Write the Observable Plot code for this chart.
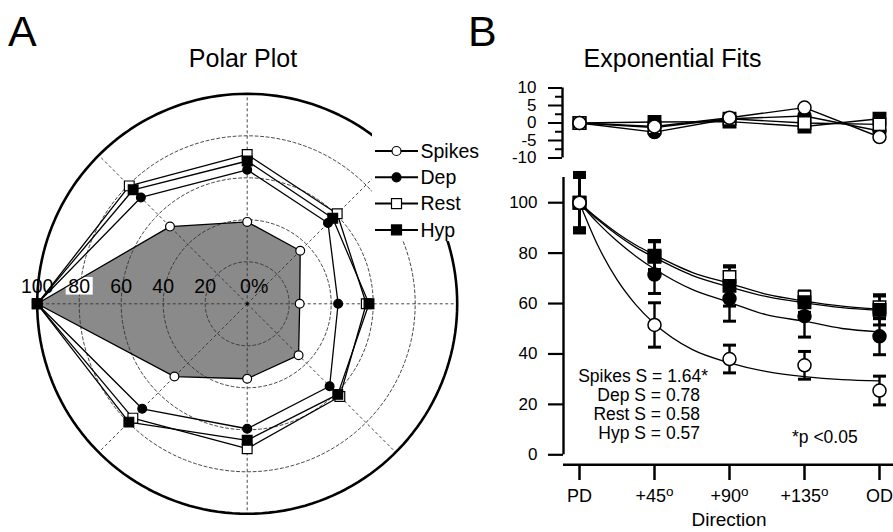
<!DOCTYPE html>
<html><head><meta charset="utf-8">
<script src="https://cdn.jsdelivr.net/npm/d3@7"></script>
<script src="https://cdn.jsdelivr.net/npm/@observablehq/plot@0.6"></script>
<style>
body{margin:0;background:#fff;}
#wrap{position:relative;width:893px;height:532px;overflow:hidden;font-family:"Liberation Sans",Arial,sans-serif;background:#fff;}
#wrap svg{position:absolute;left:0;top:0;}
</style></head><body><div id="wrap"></div>
<script>
// ---------- DATA ----------
// Panel A: polar plot (percent of PD response), going round from PD (left) counter-clockwise on top
const polarLabels = ["PD", "+45", "+90", "+135", "OD", "+135", "+90", "+45"];
const polarAngles = [180, 135, 90, 45, 0, -45, -90, -135];
const spikesPolar = [100, 52, 39, 35.7, 25, 34.6, 35.7, 49];
const depPolar    = [100, 71.6, 63.8, 54.4, 43.3, 55.5, 59.5, 70.7];
const restPolar   = [100, 79.4, 71.1, 60.6, 56.7, 62.4, 69, 77];
const hypPolar    = [100, 76.8, 68, 57.6, 58, 61, 65, 79.7];
const ringValues  = [20, 40, 60, 80];
const radialLabels = ["100", "80", "60", "40", "20"];
const radialValues = [100, 80, 60, 40, 20];
const seriesNames = ["Spikes", "Dep", "Rest", "Hyp"];

// Panel B: exponential fits
const directions = ["PD", "+45o", "+90o", "+135o", "OD"];
const dirIndex = [0, 1, 2, 3, 4];
const spikesMean = [100, 51.5, 38, 35.5, 25.5];
const spikesSem  = [10, 8.8, 5.5, 5.5, 5.7];
const depMean    = [100, 71.5, 62, 55, 47];
const depSem     = [11, 7.5, 9, 8.3, 7.3];
const restMean   = [100, 79, 70.5, 62.5, 58.5];
const restSem    = [10, 5.5, 4, 2.5, 4.5];
const hypMean    = [100, 78.5, 67, 60.5, 57.5];
const hypSem     = [12, 6.5, 8, 4, 6];
// fitted curves
const fitX        = [0, 0.25, 0.5, 0.75, 1, 1.5, 2, 2.5, 3, 3.5, 4];
const spikesFit   = [100, 82.7, 69.5, 59.6, 52, 41.8, 36.5, 33, 31, 29.8, 29.3];
const depFit      = [100, 91.8, 84.8, 78.8, 73.7, 65.6, 60.5, 55.5, 53, 50.1, 48.8];
const restFit     = [100, 93.6, 88, 83.2, 79.3, 72.4, 68, 63.6, 61, 59, 57.8];
const hypFit      = [100, 93.1, 87.3, 82.3, 78.3, 71.2, 66.6, 62.7, 60.3, 58.4, 57.3];
// residuals
const spikesRes = [0, -1, 1.5, 4.4, -4];
const depRes    = [0, -2.6, 1.2, 2, -2.3];
const restRes   = [0, -1.3, 1.2, 0, -0.4];
const hypRes    = [0, 0.3, 0.4, -1, 1.2];
const resMajor = [-10, -5, 0, 5, 10];
const resMinor = [-7.5, -2.5, 2.5, 7.5];
const mainTicks = [0, 20, 40, 60, 80, 100];
const fitLabels = ["Spikes S = 1.64*", "Dep S = 0.78", "Rest S = 0.58", "Hyp S = 0.57"];
const pNote = "*p <0.05";

// ---------- STYLE ----------
const FONT = '"Liberation Sans", Arial, sans-serif';
const GRAY = "#8a8a8a";
const seriesStyle = {
  Spikes: {symbol: "circle", fill: "white"},
  Dep:    {symbol: "circle", fill: "black"},
  Rest:   {symbol: "square", fill: "white"},
  Hyp:    {symbol: "square", fill: "black"}
};
const wrap = document.getElementById("wrap");
const rad = a => a * Math.PI / 180;

// ---------- PANEL A ----------
const polarSeries = {Spikes: spikesPolar, Dep: depPolar, Rest: restPolar, Hyp: hypPolar};
function polygon(name) {
  const vals = polarSeries[name];
  return vals.map((v, i) => ({name, r: v, a: polarAngles[i], x: v * Math.cos(rad(polarAngles[i])), y: v * Math.sin(rad(polarAngles[i]))}));
}
const polys = Object.fromEntries(seriesNames.map(n => [n, polygon(n)]));
const closed = n => [...polys[n], polys[n][0]];
function circlePts(r) {
  return d3.range(0, 361, 2).map(a => ({r, x: r * Math.cos(rad(a)), y: r * Math.sin(rad(a))}));
}
const ringPts = ringValues.flatMap(circlePts);
const outerPts = circlePts(100);
const cx = 246.7, cy = 303.3, R = 210;
const capRect = {draw(ctx) { ctx.rect(-13.5, -8.8, 27, 17.6); }};

const polarPlot = Plot.plot({
  width: 893, height: 532, margin: 0,
  x: {domain: [-100, 100], range: [cx - R, cx + R], axis: null},
  y: {domain: [-100, 100], range: [cy + R, cy - R], axis: null},
  style: {background: "transparent", fontFamily: FONT, color: "black"},
  marks: [
    Plot.line(closed("Spikes"), {x: "x", y: "y", fill: GRAY, stroke: "none"}),
    Plot.line(ringPts, {x: "x", y: "y", z: "r", stroke: "#333", strokeWidth: 0.9, strokeDasharray: "3,2.5"}),
    Plot.link(polarAngles, {x1: () => 0, y1: () => 0, x2: a => 100 * Math.cos(rad(a)), y2: a => 100 * Math.sin(rad(a)), stroke: "#333", strokeWidth: 0.9, strokeDasharray: "3,2.5"}),
    Plot.line(outerPts, {x: "x", y: "y", stroke: "black", strokeWidth: 2.6}),
    Plot.dot([0], {x: () => 0, y: () => 0, r: 1.5, fill: "black"}),
    Plot.dot([80], {x: d => -d, y: () => 0, dy: -18, symbol: capRect, r: 5, fill: "white", stroke: "none"}),
    Plot.text(radialValues, {x: d => -d, y: () => 0, text: (d, i) => radialLabels[i], dy: -17, fontSize: 19.5, fill: "black"}),
    Plot.text([0], {x: () => 0, y: () => 0, text: () => "0%", dy: -17, dx: 7, fontSize: 19.5, fill: "black"}),
    ...seriesNames.map(n => Plot.line(closed(n), {x: "x", y: "y", stroke: "black", strokeWidth: 1.3})),
    ...seriesNames.map(n => Plot.dot(polys[n], {x: "x", y: "y", symbol: seriesStyle[n].symbol, r: seriesStyle[n].symbol === "circle" ? 4.4 : 5.5, fill: seriesStyle[n].fill, stroke: "black", strokeWidth: 1.2}))
  ]
});
wrap.appendChild(polarPlot);

// ---------- PANEL B ----------
const X0 = 579, X4 = 879;
const bSeries = {
  Spikes: {mean: spikesMean, sem: spikesSem, fit: spikesFit, res: spikesRes},
  Dep:    {mean: depMean, sem: depSem, fit: depFit, res: depRes},
  Rest:   {mean: restMean, sem: restSem, fit: restFit, res: restRes},
  Hyp:    {mean: hypMean, sem: hypSem, fit: hypFit, res: hypRes}
};
const rows = n => dirIndex.map(i => ({name: n, x: i, m: bSeries[n].mean[i], s: bSeries[n].sem[i], res: bSeries[n].res[i]}));
const fitRows = n => fitX.map((x, i) => ({name: n, x, y: bSeries[n].fit[i]}));
const capSym = {draw(ctx) { ctx.moveTo(-6.5, 0); ctx.lineTo(6.5, 0); }};
const mainOrder = ["Rest", "Hyp", "Dep", "Spikes"];
const markR = n => seriesStyle[n].symbol === "circle" ? 6.5 : 7;

const mainPlot = Plot.plot({
  width: 893, height: 532,
  marginLeft: 563, marginRight: 0, marginTop: 170, marginBottom: 68,
  x: {domain: [0, 4], range: [X0, X4], axis: null},
  y: {domain: [0, 110], range: [454.3, 177], axis: null},
  style: {background: "transparent", fontFamily: FONT, color: "black"},
  marks: [
    Plot.axisY({ticks: mainTicks, label: null, tickSize: 15, tickPadding: 11, tickFormat: d => String(d), fontSize: 17, strokeWidth: 2.2}),
    Plot.axisX({ticks: dirIndex, label: null, tickSize: 16, tickPadding: 9, tickFormat: i => directions[i], fontSize: 18, strokeWidth: 2.5}),
    Plot.ruleX([0], {y1: () => 0, y2: () => 110, dx: -16, strokeWidth: 2.4}),
    Plot.ruleY([0], {dy: 10, strokeWidth: 2.5}),
    ...seriesNames.map(n => Plot.line(fitRows(n), {x: "x", y: "y", curve: "monotone-x", stroke: "black", strokeWidth: 1.3})),
    ...mainOrder.flatMap(n => [
      Plot.ruleX(rows(n), {x: "x", y1: d => d.m - d.s, y2: d => d.m + d.s, stroke: "black", strokeWidth: 2.4}),
      Plot.dot(rows(n), {x: "x", y: d => d.m - d.s, symbol: capSym, r: 4, stroke: "black", strokeWidth: 3, fill: "none"}),
      Plot.dot(rows(n), {x: "x", y: d => d.m + d.s, symbol: capSym, r: 4, stroke: "black", strokeWidth: 3, fill: "none"})
    ]),
    ...mainOrder.map(n => Plot.dot(rows(n), {x: "x", y: "m", symbol: seriesStyle[n].symbol, r: markR(n), fill: seriesStyle[n].fill, stroke: "black", strokeWidth: 1.5}))
  ]
});
wrap.appendChild(mainPlot);
d3.select(mainPlot).selectAll("text").each(function () {
  const t = this.textContent;
  if (/^\+\d+o$/.test(t)) {
    this.textContent = t.slice(0, -1);
    d3.select(this).append("tspan").attr("dy", "-0.45em").attr("font-size", "0.75em").text("o");
  }
});

const resOrder = ["Hyp", "Dep", "Rest", "Spikes"];
const resPlot = Plot.plot({
  width: 893, height: 532,
  marginLeft: 562, marginRight: 0, marginTop: 80, marginBottom: 360,
  x: {domain: [0, 4], range: [X0, X4], axis: null},
  y: {domain: [-10, 10], range: [157.5, 87.5], axis: null},
  style: {background: "transparent", fontFamily: FONT, color: "black"},
  marks: [
    Plot.axisY({ticks: resMajor, label: null, tickSize: 14, tickPadding: 12, tickFormat: d => String(d), fontSize: 17, strokeWidth: 2}),
    Plot.axisY({ticks: resMinor, label: null, tickSize: 7, tickFormat: () => "", strokeWidth: 2}),
    Plot.ruleX([0], {y1: () => -10, y2: () => 10, dx: -17, strokeWidth: 2.4}),
    ...seriesNames.map(n => Plot.line(rows(n), {x: "x", y: "res", stroke: "black", strokeWidth: 1.4})),
    ...resOrder.map(n => Plot.dot(rows(n), {x: "x", y: "res", symbol: seriesStyle[n].symbol, r: markR(n), fill: seriesStyle[n].fill, stroke: "black", strokeWidth: 1.5}))
  ]
});
wrap.appendChild(resPlot);

// ---------- TITLES, LEGEND, NOTES ----------
const ov = d3.select(wrap).append("svg").attr("width", 893).attr("height", 532)
  .style("font-family", FONT);
// legend (with white backing that interrupts the outer ring)
const lg = ov.append("g");
lg.append("rect").attr("x", 372).attr("y", 132).attr("width", 121).attr("height", 109).attr("fill", "white");
seriesNames.forEach((n, i) => {
  const y = 151 + i * 26.3;
  lg.append("line").attr("x1", 375).attr("x2", 418).attr("y1", y).attr("y2", y).attr("stroke", "black").attr("stroke-width", 2);
  const st = seriesStyle[n];
  if (st.symbol === "circle") lg.append("circle").attr("cx", 396.5).attr("cy", y).attr("r", 4.5).attr("fill", st.fill).attr("stroke", "black").attr("stroke-width", 1.2);
  else lg.append("rect").attr("x", 396.5 - 5).attr("y", y - 5).attr("width", 10).attr("height", 10).attr("fill", st.fill).attr("stroke", "black").attr("stroke-width", 1.2);
  lg.append("text").attr("x", 420.5).attr("y", y + 6.8).attr("font-size", 19.5).text(n);
});
// panel letters and titles
ov.append("text").attr("x", 8).attr("y", 46).attr("font-size", 43).text("A");
ov.append("text").attr("x", 468).attr("y", 46).attr("font-size", 43).text("B");
ov.append("text").attr("x", 243).attr("y", 67).attr("text-anchor", "middle").attr("font-size", 25).text("Polar Plot");
ov.append("text").attr("x", 672.5).attr("y", 67).attr("text-anchor", "middle").attr("font-size", 25).text("Exponential Fits");
// fit annotations
const noteEnds = [708, 700, 700, 700];
fitLabels.forEach((t, i) => {
  ov.append("text").attr("x", noteEnds[i]).attr("y", 381.7 + i * 19.2).attr("text-anchor", "end").attr("font-size", 17.5).text(t);
});
ov.append("text").attr("x", 792).attr("y", 443).attr("font-size", 17.5).text(pNote);
ov.append("text").attr("x", 729).attr("y", 526).attr("text-anchor", "middle").attr("font-size", 19).text("Direction");
</script>
</body></html>
